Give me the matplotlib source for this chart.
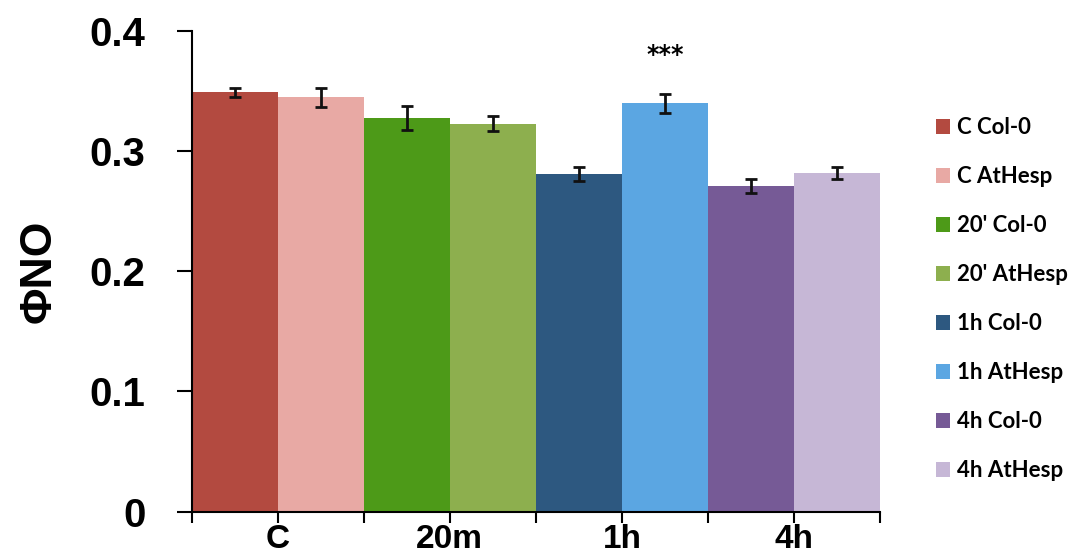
import matplotlib
matplotlib.use("Agg")
import matplotlib.pyplot as plt
from matplotlib.patches import Patch

series = ["C Col-0", "C AtHesp", "20' Col-0", "20' AtHesp",
          "1h Col-0", "1h AtHesp", "4h Col-0", "4h AtHesp"]
values = [0.349, 0.345, 0.328, 0.323, 0.281, 0.340, 0.271, 0.282]
errors = [0.004, 0.008, 0.010, 0.006, 0.006, 0.008, 0.006, 0.005]
colors = ["#b34a40", "#e8a9a4", "#4d9a18", "#8daf4e",
          "#2d5880", "#5ba6e2", "#765a96", "#c6b7d6"]
groups = ["C", "20m", "1h", "4h"]
yticks = [0, 0.1, 0.2, 0.3, 0.4]
ytick_labels = ["0", "0.1", "0.2", "0.3", "0.4"]

fig = plt.figure(figsize=(10.76, 5.56), dpi=100)
ax = fig.add_axes([0.178, 0.080, 0.640, 0.864])

x = list(range(len(values)))
ax.bar(x, values, width=1.0, color=colors, edgecolor="none",
       yerr=errors, error_kw=dict(ecolor="#111111", elinewidth=2.0, capsize=4.5, capthick=2.0))

ax.set_xlim(-0.5, len(values) - 0.5)
ax.set_ylim(0, 0.4)
ax.set_yticks(yticks)
ax.set_yticklabels(ytick_labels, fontsize=29, fontweight="bold", family="Liberation Sans")
ax.set_xticks([i + 0.5 for i in range(0, len(values), 2)])
ax.set_xticklabels(groups, fontsize=24, fontweight="bold", family="Liberation Sans")
ax.set_xticks([i - 0.5 for i in range(len(values) + 1)], minor=True)
ax.tick_params(axis="x", which="both", length=8, width=1.5, direction="out", pad=1)
ax.tick_params(axis="y", length=11, width=1.5, direction="out", pad=22)

for s in ["top", "right"]:
    ax.spines[s].set_visible(False)
for s in ["left", "bottom"]:
    ax.spines[s].set_linewidth(1.5)

ax.set_ylabel("ΦNO", fontsize=32, fontweight="bold", family="Liberation Sans", labelpad=22)

ax.text(5, 0.380, "***", ha="center", va="center", fontsize=17, fontweight="bold")

handles = [Patch(facecolor=c, edgecolor="none") for c in colors]
fig.legend(handles, series, loc="center left", bbox_to_anchor=(0.851, 0.462),
           frameon=False, prop=dict(family="Lato", weight="bold", size=16),
           handlelength=0.65, handleheight=0.65, handletextpad=0.3, labelspacing=1.26)

fig.savefig("out.png", dpi=100)
